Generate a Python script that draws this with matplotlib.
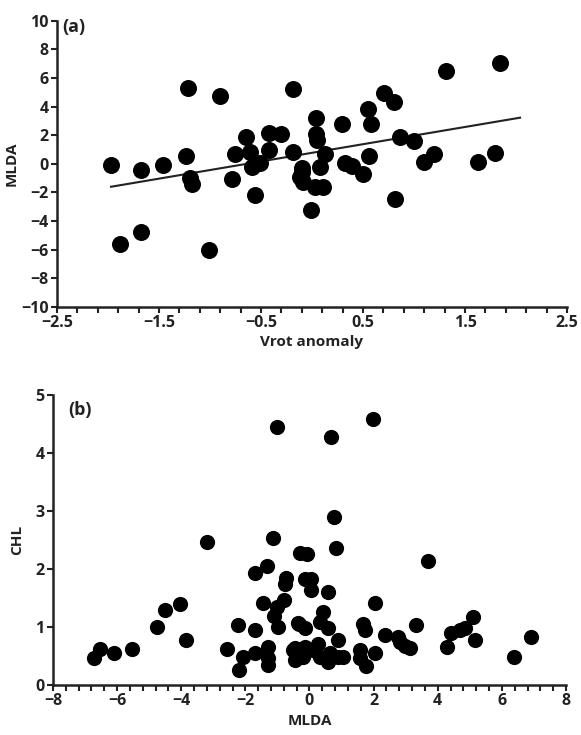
import numpy as np
import matplotlib.pyplot as plt

# panel (a): Vrot anomaly vs MLDA
vrot = [-1.97, -1.68, -1.46, -1.24, -1.22, -0.90, -0.19, -0.75, -0.65, -0.61,
        -0.59, -0.51, -0.42, -0.42, -0.30, -0.19, -1.20, -1.18, -0.78, -0.56,
        -1.88, -1.68, -1.01, -0.12, 1.31, 1.84, 0.71, 0.80, 0.55, 0.58,
        0.04, 0.29, 0.04, 0.05, 0.86, 1.00, 0.13, 0.56, 1.20, 1.10,
        1.79, 1.63, -0.10, 0.08, 0.32, 0.39, 0.50, -0.10, -0.09, 0.03,
        0.11, -0.01, 0.81]
mlda_a = [-0.10, -0.44, -0.10, 0.54, 5.27, 4.73, 5.20, 0.66, 1.89, 0.84,
          -0.21, 0.07, 0.96, 2.13, 2.08, 0.84, -1.00, -1.40, -1.09, -2.19,
          -5.64, -4.75, -6.04, -0.90, 6.48, 7.02, 4.97, 4.34, 3.80, 2.78,
          3.17, 2.78, 2.08, 1.66, 1.85, 1.61, 0.68, 0.54, 0.66, 0.10,
          0.77, 0.10, -0.32, -0.21, 0.03, -0.14, -0.75, -0.56, -1.26, -1.65,
          -1.65, -3.24, -2.49]
fit_x = [-1.97, 2.04]
fit_y = [-1.61, 3.22]

# panel (b): MLDA vs CHL
mlda_b = [-1.02, -3.19, -1.13, -0.30, 0.67, 1.99, 0.77, 0.83, -0.09, 3.71,
          -1.70, -1.32, -0.74, -0.76, -4.04, -4.51, -4.77, -3.86, -6.72, -6.53,
          -6.09, -5.55, -2.58, -2.24, -1.70, -1.44, -0.79, -1.00, -1.11, -0.97,
          -2.06, -1.70, -2.20, -1.30, -1.30, -1.30, -0.45, -0.45, -0.14, 0.04,
          0.04, 0.59, 2.04, -0.35, -0.14, 0.43, 0.33, 0.59, 0.90, 1.68,
          1.73, 2.36, 2.77, 2.82, 2.98, 3.14, 3.32, 4.40, 4.69, 4.85,
          5.11, 5.16, 4.28, 6.91, 6.38, -0.50, -0.14, -0.19, 0.12, 0.33,
          0.59, 0.64, 1.06, 1.58, 1.58, 1.76, 2.04, 0.90, 0.25, -0.33]
chl = [4.44, 2.47, 2.53, 2.28, 4.28, 4.58, 2.90, 2.37, 2.26, 2.13,
       1.93, 2.05, 1.84, 1.75, 1.39, 1.29, 1.00, 0.78, 0.46, 0.62,
       0.56, 0.62, 0.62, 1.03, 0.94, 1.41, 1.47, 1.35, 1.19, 1.00,
       0.49, 0.55, 0.26, 0.65, 0.46, 0.34, 0.63, 0.43, 1.82, 1.82,
       1.64, 1.61, 1.42, 1.07, 0.99, 1.26, 1.09, 0.98, 0.78, 1.06,
       0.94, 0.87, 0.83, 0.75, 0.67, 0.63, 1.03, 0.89, 0.94, 0.99,
       1.18, 0.78, 0.66, 0.82, 0.48, 0.60, 0.66, 0.49, 0.60, 0.49,
       0.40, 0.55, 0.49, 0.60, 0.46, 0.32, 0.56, 0.49, 0.70, 1.06]

plt.rcParams['font.family'] = ['Open Sans', 'DejaVu Sans']
plt.rcParams['font.weight'] = 'bold'

fig = plt.figure(figsize=(5.81, 7.35), dpi=100)
ax1 = fig.add_axes([0.0981, 0.5827, 0.8778, 0.3891])
ax2 = fig.add_axes([0.0912, 0.0680, 0.8830, 0.3946])


def style(ax):
    for s in ['top', 'right']:
        ax.spines[s].set_visible(False)
    for s in ['left', 'bottom']:
        ax.spines[s].set_linewidth(1.8)
        ax.spines[s].set_color('#222222')
    ax.tick_params(which='both', direction='out', length=4, width=1.5,
                   color='#222222', labelsize=11.5, labelcolor='#222222', pad=2)


ax1.scatter(vrot, mlda_a, s=150, color='black', zorder=3, linewidths=0)
ax1.plot(fit_x, fit_y, color='#222222', lw=1.5, zorder=2)
ax1.set_xlim(-2.5, 2.5)
ax1.set_ylim(-10, 10)
ax1.set_xticks(np.arange(-2.5, 2.6, 1.0))
ax1.set_xticks(np.arange(-2.5, 2.51, 0.2), minor=True)
ax1.set_xticklabels(['−2.5', '−1.5', '−0.5', '0.5', '1.5', '2.5'])
ax1.set_yticks(np.arange(-10, 11, 2))
style(ax1)
ax1.set_xlabel('Vrot anomaly', fontsize=11, fontweight='bold', color='#222222', labelpad=3)
ax1.set_ylabel('MLDA', fontsize=11, fontweight='bold', color='#222222', labelpad=2)
ax1.text(0.01, 1.01, '(a)', transform=ax1.transAxes, fontsize=13,
         fontweight='bold', va='top', ha='left', color='#222222')

ax2.scatter(mlda_b, chl, s=120, color='black', zorder=3, linewidths=0)
ax2.set_xlim(-8, 8)
ax2.set_ylim(0, 5)
ax2.set_xticks(np.arange(-8, 9, 2))
ax2.set_xticks(np.arange(-8, 8.01, 0.4), minor=True)
ax2.set_yticks(np.arange(0, 6, 1))
style(ax2)
ax2.set_xlabel('MLDA', fontsize=11, fontweight='bold', color='#222222', labelpad=3)
ax2.set_ylabel('CHL', fontsize=11, fontweight='bold', color='#222222', labelpad=8)
ax2.text(0.03, 0.98, '(b)', transform=ax2.transAxes, fontsize=13,
         fontweight='bold', va='top', ha='left', color='#222222')

fig.savefig('out.png', dpi=100)
